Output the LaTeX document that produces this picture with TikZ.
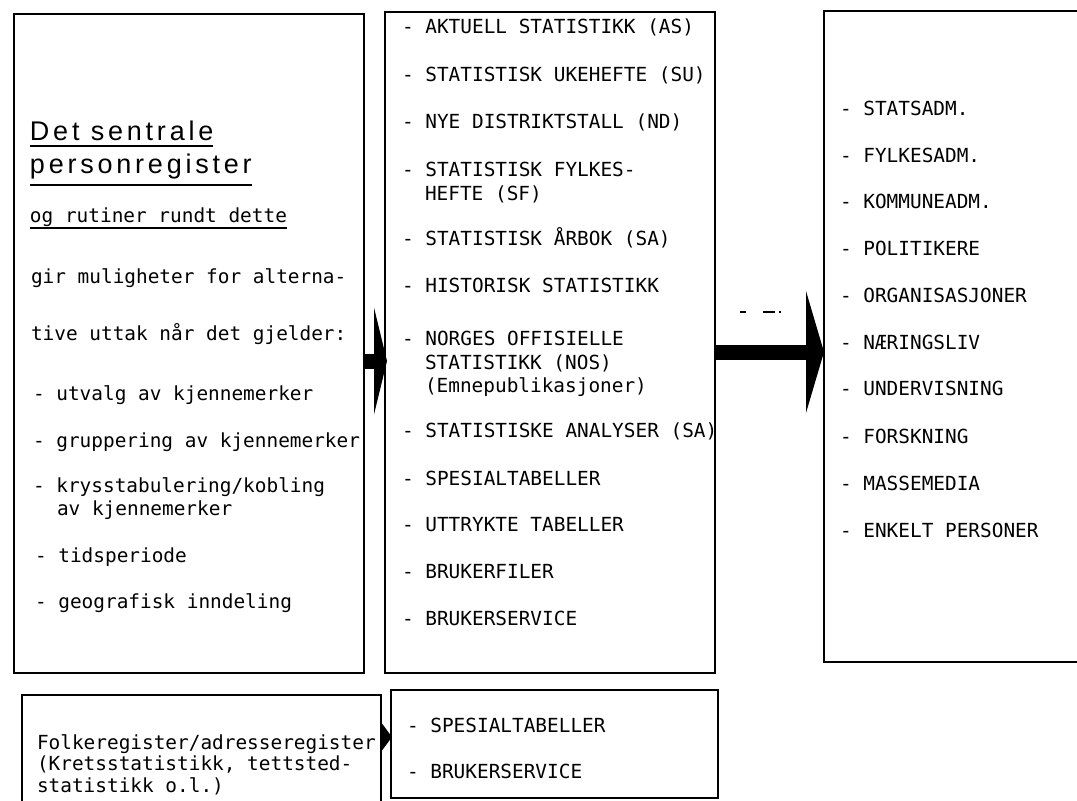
\documentclass[tikz,border=0pt]{standalone}
\usepackage{fontspec}
\usetikzlibrary{arrows.meta,calc}
\newfontfamily\twfont{DejaVu Sans Mono}
\newfontfamily\ttlfont[LetterSpace=14]{Liberation Sans}
\begin{document}
\begin{tikzpicture}[x=1pt,y=-1pt,
  box/.style={draw, line width=2.2pt, inner sep=0pt, outer sep=0pt},
  txt/.style={anchor=base west, inner sep=0pt, outer sep=0pt, font=\twfont\fontsize{19.4}{23}\selectfont},
  ttl/.style={anchor=base west, inner sep=0pt, outer sep=0pt, font=\ttlfont\fontsize{27}{30}\selectfont},
  uline/.style={line width=1.6pt},
  bigarrow/.style={line width=#1}
]
\useasboundingbox (0,0) rectangle (1077,801);
\clip (0,0) rectangle (1077,801);

% boxes
\node[box, minimum width=350pt, minimum height=659pt] (b1) at (189,343.5) {};
\node[box, minimum width=330pt, minimum height=661pt] (b2) at (550,342.5) {};
\node[box, minimum width=266pt, minimum height=651pt] (b3) at (957,336.5) {};
\node[box, minimum width=359pt, minimum height=120pt] (b4) at (201.5,755) {};
\node[box, minimum width=327pt, minimum height=108pt] (b5) at (554.5,744) {};

% left box text
\node[ttl] (t1) at (30,140) {Det sentrale};
\node[ttl] (t2) at (30,173) {personregister};
\node[txt] (t3) at (30,222) {og rutiner rundt dette};
\draw[uline] ($(t1.base west)+(0,6)$) -- ($(t1.base east)+(0,6)$);
\draw[uline] ($(t2.base west)+(0,12)$) -- ($(t2.base east)+(0,12)$);
\draw[uline] ($(t3.base west)+(0,6)$) -- ($(t3.base east)+(0,6)$);
\node[txt] (l1) at (31,283) {gir muligheter for alterna-};
\node[txt] (l2) at (31,340) {tive uttak når det gjelder:};
\node[txt] (l3) at (33,400) {- utvalg av kjennemerker};
\node[txt] (l4) at (33,447) {- gruppering av kjennemerker};
\node[txt] (l5) at (33,492) {- krysstabulering/kobling};
\node[txt] (l5b) at (57,515) {av kjennemerker};
\node[txt] (l6) at (35,562) {- tidsperiode};
\node[txt] (l7) at (35,608) {- geografisk inndeling};

% middle box text
\node[txt] (m1) at (402,33) {- AKTUELL STATISTIKK (AS)};
\node[txt] (m2) at (402,81) {- STATISTISK UKEHEFTE (SU)};
\node[txt] (m3) at (402,128) {- NYE DISTRIKTSTALL (ND)};
\node[txt] (m4) at (402,176) {- STATISTISK FYLKES-};
\node[txt] (m4b) at (425,200) {HEFTE (SF)};
\node[txt] (m5) at (402,245) {- STATISTISK ÅRBOK (SA)};
\node[txt] (m6) at (402,292) {- HISTORISK STATISTIKK};
\node[txt] (m7) at (402,345) {- NORGES OFFISIELLE};
\node[txt] (m7b) at (425,369) {STATISTIKK (NOS)};
\node[txt] (m7c) at (425,392) {(Emnepublikasjoner)};
\node[txt] (m8) at (402,437) {- STATISTISKE ANALYSER (SA)};
\node[txt] (m9) at (402,485) {- SPESIALTABELLER};
\node[txt] (m10) at (402,531) {- UTTRYKTE TABELLER};
\node[txt] (m11) at (402,578) {- BRUKERFILER};
\node[txt] (m12) at (402,625) {- BRUKERSERVICE};

% right box text
\node[txt] (r1) at (840,115) {- STATSADM.};
\node[txt] (r2) at (840,162) {- FYLKESADM.};
\node[txt] (r3) at (840,208) {- KOMMUNEADM.};
\node[txt] (r4) at (840,255) {- POLITIKERE};
\node[txt] (r5) at (840,302) {- ORGANISASJONER};
\node[txt] (r6) at (840,349) {- NÆRINGSLIV};
\node[txt] (r7) at (840,395) {- UNDERVISNING};
\node[txt] (r8) at (840,443) {- FORSKNING};
\node[txt] (r9) at (840,490) {- MASSEMEDIA};
\node[txt] (r10) at (840,537) {- ENKELT PERSONER};

% bottom boxes text
\node[txt] (f1) at (37,749) {Folkeregister/adresseregister};
\node[txt] (f2) at (37,770) {(Kretsstatistikk, tettsted-};
\node[txt] (f3) at (37,792) {statistikk o.l.)};
\node[txt] (s1) at (407,732) {- SPESIALTABELLER};
\node[txt] (s2) at (407,778) {- BRUKERSERVICE};

% arrows
\draw[bigarrow=15pt, -{Triangle[length=13pt,width=107pt,line width=0pt 0]}]
  (b1.east |- 0,361) -- ($(b2.west |- 0,361)+(2,0)$);
\draw[bigarrow=15pt, -{Triangle[length=18pt,width=122pt,line width=0pt 0]}]
  (b2.east |- 0,352) -- (b3.west |- 0,352);
\draw[bigarrow=6pt, -{Triangle[length=10pt,width=27pt,line width=0pt 0]}]
  (b4.east |- 0,737) -- ($(b5.west |- 0,737)+(1,0)$);

% stray dash marks
\draw[line width=1.2pt] (740,312) -- (746,312) (763,312) -- (775,312) (779,312) -- (781,312);
\end{tikzpicture}
\end{document}
